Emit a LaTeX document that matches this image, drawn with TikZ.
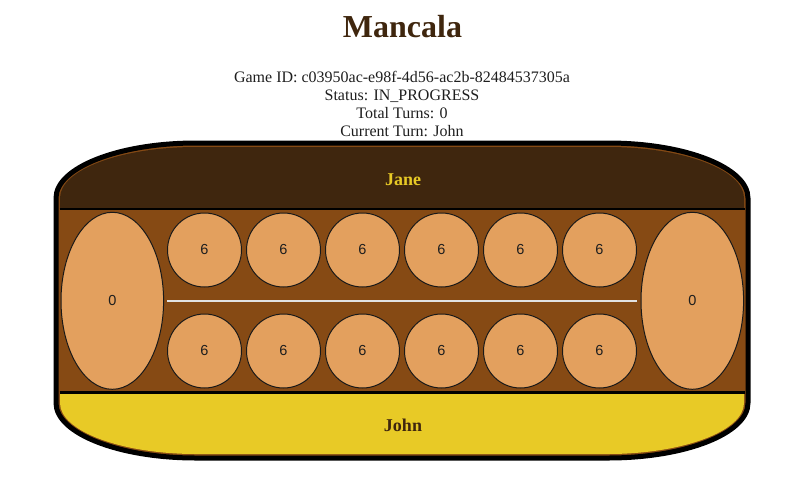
\documentclass[tikz,border=0pt]{standalone}
\usepackage{fontspec}
\setmainfont{Liberation Serif}
\newfontfamily\pitfont{Liberation Sans}
\usetikzlibrary{shapes.geometric}
\definecolor{darkwood}{HTML}{3F260E}
\definecolor{midwood}{HTML}{864A14}
\definecolor{goldy}{HTML}{E8CA26}
\definecolor{pitfill}{HTML}{E3A05E}
\definecolor{infotext}{HTML}{1E1E1E}
\definecolor{midline}{HTML}{E2E2E2}
\tikzset{
  pit/.style={circle, draw=black!90, line width=1pt, fill=pitfill, minimum size=74pt, inner sep=0pt,
    font=\pitfont\fontsize{14.5}{16}\selectfont, text=infotext},
  store/.style={ellipse, draw=black!90, line width=1pt, fill=pitfill, minimum width=102.6pt, minimum height=177pt, inner sep=0pt,
    font=\pitfont\fontsize{14.5}{16}\selectfont, text=infotext},
  info/.style={anchor=base, inner sep=0pt, font=\fontsize{16}{18}\selectfont, text=infotext},
  player/.style={anchor=base, inner sep=0pt, font=\bfseries\fontsize{18}{20}\selectfont},
  sepline/.style={line width=2.5pt, black}
}
\begin{document}
\begin{tikzpicture}[x=1pt,y=-1pt]
\useasboundingbox (0,0) rectangle (801,483);
% title and info
\node[anchor=base, inner sep=0pt, font=\bfseries\fontsize{32}{38}\selectfont, text=darkwood] (title) at (402.5,37) {Mancala};
\node[info] (gameid) at (402,82) {Game ID: c03950ac-e98f-4d56-ac2b-82484537305a};
\node[info] (status) at (402,100) {Status: IN\_PROGRESS};
\node[info] (turns) at (402,118) {Total Turns: 0};
\node[info] (current) at (402,136) {Current Turn: John};
% board body
\fill[midwood] (56,198) arc[start angle=180,end angle=270,x radius=140,y radius=55]
  -- (608,143) arc[start angle=270,end angle=360,x radius=140,y radius=55]
  -- (748,403) arc[start angle=0,end angle=90,x radius=140,y radius=55]
  -- (196,458) arc[start angle=90,end angle=180,x radius=140,y radius=55] -- cycle;
\begin{scope}
\clip (60,198) arc[start angle=180,end angle=270,x radius=136,y radius=51]
  -- (608,147) arc[start angle=270,end angle=360,x radius=136,y radius=51]
  -- (744,403) arc[start angle=0,end angle=90,x radius=136,y radius=51]
  -- (196,454) arc[start angle=90,end angle=180,x radius=136,y radius=51] -- cycle;
\fill[darkwood] (0,0) rectangle (801,209);
\fill[goldy] (0,392.5) rectangle (801,483);
\end{scope}
\draw[line width=5pt] (56,198) arc[start angle=180,end angle=270,x radius=140,y radius=55]
  -- (608,143) arc[start angle=270,end angle=360,x radius=140,y radius=55]
  -- (748,403) arc[start angle=0,end angle=90,x radius=140,y radius=55]
  -- (196,458) arc[start angle=90,end angle=180,x radius=140,y radius=55] -- cycle;
\coordinate (topL) at (59.5,209);
\coordinate (topR) at (744.5,209);
\coordinate (botL) at (59.5,392.5);
\coordinate (botR) at (744.5,392.5);
\draw[sepline] (topL) -- (topR);
\draw[sepline] (botL) -- (botR);
% player labels
\node[player, text=goldy] (jane) at (403,185) {Jane};
\node[player, text=darkwood] (john) at (403,431) {John};
% middle line
\coordinate (lineL) at (167,301);
\coordinate (lineR) at (637,301);
\draw[midline, line width=2pt] (lineL) -- (lineR);
% stores
\node[store] (storeL) at (112.3,300.8) {0};
\node[store] (storeR) at (692.3,300.8) {0};
% pits
\foreach \i in {0,...,5} {
  \node[pit] (top\i) at ({204.5+79*\i},250) {6};
  \node[pit] (bot\i) at ({204.5+79*\i},351) {6};
}
\end{tikzpicture}
\end{document}
